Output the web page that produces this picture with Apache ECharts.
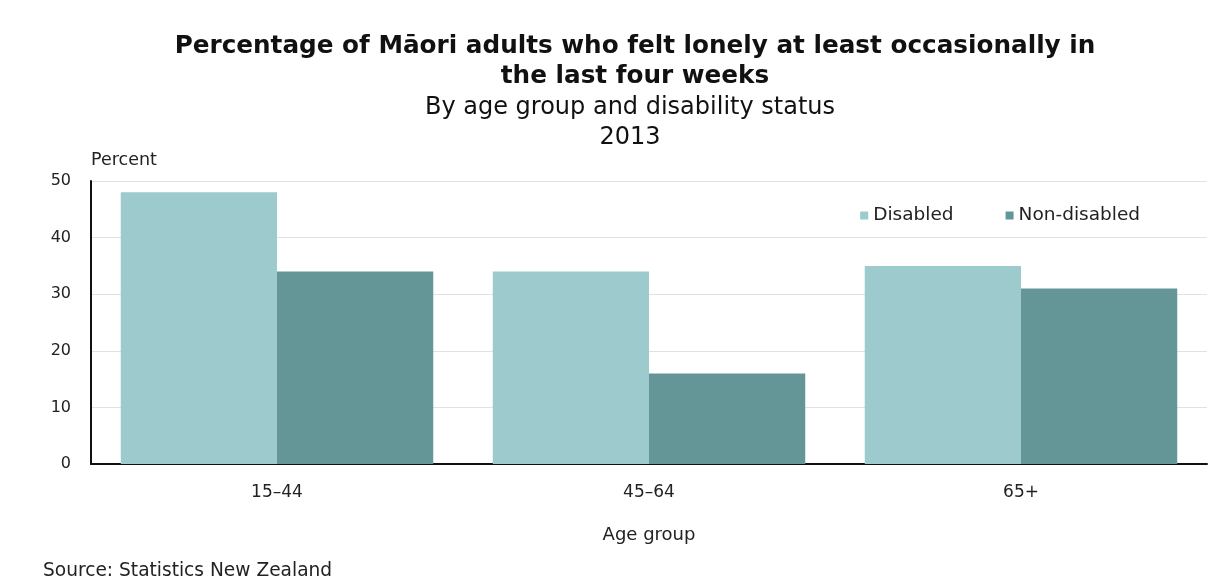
<!DOCTYPE html>
<html><head><meta charset="utf-8">
<script src="https://cdn.jsdelivr.net/npm/echarts@6/dist/echarts.min.js"></script>
<style>html,body{margin:0;padding:0;background:#fff}#c{width:1229px;height:584px}</style>
</head><body><div id="c"></div>
<script>
const categories = ['15\u201344', '45\u201364', '65+'];
const disabled = [48, 34, 35];
const nonDisabled = [34, 16, 31];
const yTicks = [0, 10, 20, 30, 40, 50];

const F = '"DejaVu Sans", "Liberation Sans", Arial, sans-serif';
const chart = echarts.init(document.getElementById('c'));
chart.setOption({
  backgroundColor: '#fff',
  animation: false,
  title: [
    {text: 'Percentage of Māori adults who felt lonely at least occasionally in\nthe last four weeks', left: 630, top: 27, textAlign: 'center',
     textStyle: {fontFamily: F, fontSize: 24.7, fontWeight: 'bold', color: '#111', lineHeight: 30}},
    {text: 'By age group and disability status\n2013', left: 625, top: 88, textAlign: 'center',
     textStyle: {fontFamily: F, fontSize: 24, fontWeight: 'normal', color: '#111', lineHeight: 30}},
    {text: 'Source: Statistics New Zealand', left: 38, top: 557,
     textStyle: {fontFamily: F, fontSize: 18.6, fontWeight: 'normal', color: '#222'}}
  ],
  legend: {
    data: ['Disabled', 'Non-disabled'], right: 84, top: 201, itemWidth: 8, itemHeight: 8, itemGap: 52,
    icon: 'rect', textStyle: {fontFamily: F, fontSize: 18.5, color: '#222'}
  },
  grid: {left: 91, right: 22, top: 181, bottom: 120},
  xAxis: {
    type: 'category', data: categories,
    name: 'Age group', nameLocation: 'middle', nameGap: 62,
    nameTextStyle: {fontFamily: F, fontSize: 18, color: '#222'},
    axisLine: {lineStyle: {color: '#111', width: 2}},
    axisTick: {show: false},
    axisLabel: {fontFamily: F, fontSize: 17, color: '#222', margin: 20}
  },
  yAxis: {
    type: 'value', min: yTicks[0], max: yTicks[yTicks.length - 1], interval: 10,
    name: 'Percent', nameLocation: 'end', nameGap: 12,
    nameTextStyle: {fontFamily: F, fontSize: 17.5, color: '#222', align: 'left', padding: [0, 0, 0, 0]},
    axisLine: {show: true, lineStyle: {color: '#111', width: 2}},
    axisTick: {show: false},
    axisLabel: {fontFamily: F, fontSize: 16, color: '#222', margin: 20},
    splitLine: {lineStyle: {color: '#e2e2e2', width: 1}}
  },
  series: [
    {name: 'Disabled', type: 'bar', data: disabled, barGap: '0%', barCategoryGap: '16%',
     itemStyle: {color: '#9dcacc'}},
    {name: 'Non-disabled', type: 'bar', data: nonDisabled,
     itemStyle: {color: '#659697'}}
  ]
});
</script></body></html>
